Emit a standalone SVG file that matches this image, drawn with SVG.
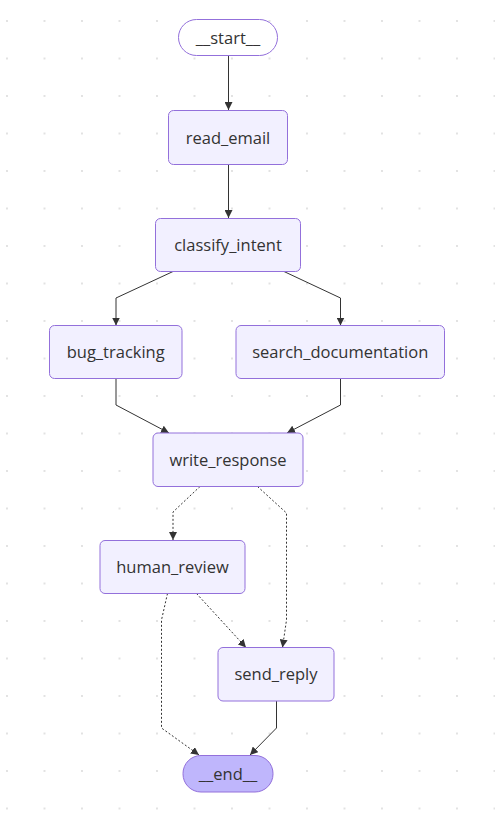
<svg xmlns="http://www.w3.org/2000/svg" width="495" height="832" viewBox="0 0 495 832">
<defs>
<pattern id="dots" x="6" y="20" width="37.5" height="37.5" patternUnits="userSpaceOnUse">
<rect x="0" y="0" width="2" height="2" fill="#e2e2e2"/>
</pattern>
<marker id="arrow" viewBox="0 0 10 10" refX="10" refY="5" markerWidth="8" markerHeight="8" markerUnits="userSpaceOnUse" orient="auto">
<path d="M0,0 L10,5 L0,10 z" fill="#333333"/>
</marker>
<style>
.node rect{fill:#f2f0ff;stroke:#9370db;stroke-width:1}
.node text{font-family:"Open Sans","DejaVu Sans",sans-serif;font-size:16.5px;fill:#333333;text-anchor:middle;dominant-baseline:central}
#start rect{fill:#ffffff}
#end rect{fill:#bfb6fc}
.edge{fill:none;stroke:#333333;stroke-width:1;marker-end:url(#arrow)}
.dotted{stroke-dasharray:2 2}
</style>
</defs>
<rect width="495" height="832" fill="#ffffff"/>
<rect width="495" height="832" fill="url(#dots)"/>
<g id="edges">
<path class="edge" d="M228.5,56 L228.5,110"/>
<path class="edge" d="M228.5,164.5 L228.5,218"/>
<path class="edge" d="M173,271.5 L116,298 L116,325.5"/>
<path class="edge" d="M284,271.5 L340.5,298 L340.5,325.5"/>
<path class="edge" d="M116,378.5 L116,405 L169,433"/>
<path class="edge" d="M340.5,378.5 L340.5,405 L287,433"/>
<path class="edge dotted" d="M200,486.5 L173,512 L173,540"/>
<path class="edge dotted" d="M257.5,486.5 L286.5,513 L286.5,620 L282.5,647.5"/>
<path class="edge dotted" d="M196.5,593.5 L246,647.5"/>
<path class="edge dotted" d="M167.5,593.5 L161.5,620 L161.5,728 L199,755"/>
<path class="edge" d="M276.5,701 L276.5,728 L250,755"/>
</g>
<g id="start" class="node"><rect x="178.5" y="19.5" width="99" height="36" rx="18"/><text x="228" y="37">__start__</text></g>
<g id="read_email" class="node"><rect x="168.5" y="110.5" width="119" height="54" rx="5"/><text x="228" y="137">read_email</text></g>
<g id="classify_intent" class="node"><rect x="155.5" y="218.5" width="145" height="53" rx="5"/><text x="228" y="244.5">classify_intent</text></g>
<g id="bug_tracking" class="node"><rect x="49.5" y="325.5" width="132.5" height="53" rx="5"/><text x="115.7" y="351.5">bug_tracking</text></g>
<g id="search_documentation" class="node"><rect x="236" y="325.5" width="208.5" height="53" rx="5"/><text x="340.2" y="351.5">search_documentation</text></g>
<g id="write_response" class="node"><rect x="153" y="433" width="150" height="53.5" rx="5"/><text x="228" y="459.5">write_response</text></g>
<g id="human_review" class="node"><rect x="100" y="540.5" width="145" height="53" rx="5"/><text x="172.5" y="566.5">human_review</text></g>
<g id="send_reply" class="node"><rect x="218" y="647.5" width="116" height="53.5" rx="5"/><text x="276" y="673.5">send_reply</text></g>
<g id="end" class="node"><rect x="183" y="755.5" width="90" height="36.5" rx="18"/><text x="228" y="773">__end__</text></g>
</svg>
